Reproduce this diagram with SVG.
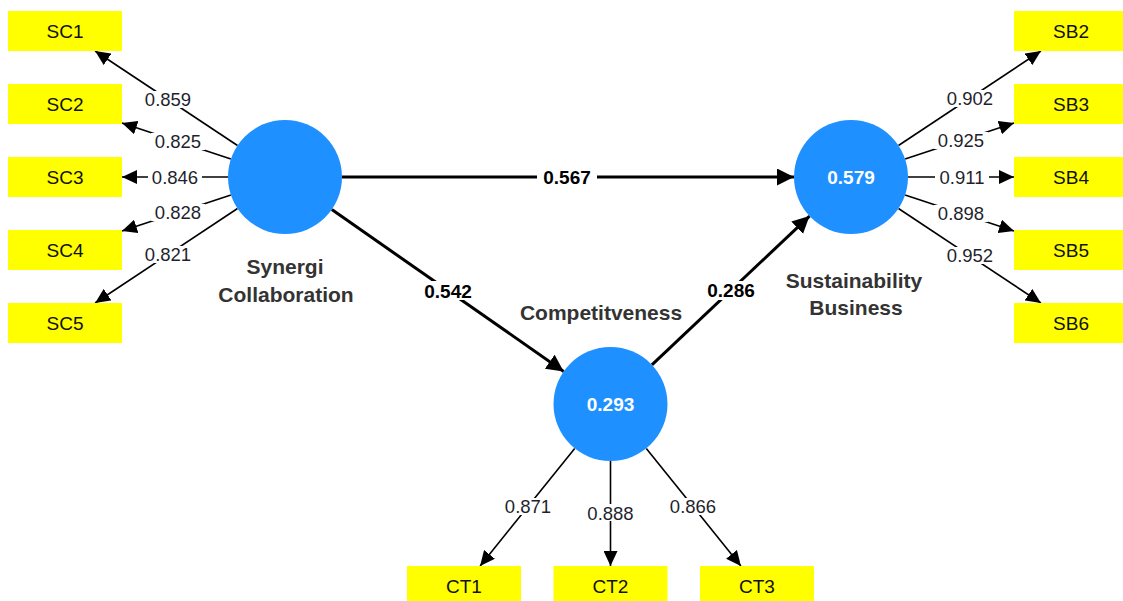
<svg xmlns="http://www.w3.org/2000/svg" width="1123" height="601" viewBox="0 0 1123 601">
<defs>
<style>
.box{fill:#ffff00}
.lat{fill:#1e90ff}
.t{font-family:"Liberation Sans",Arial,sans-serif;text-anchor:middle}
.bl{font-size:19px;fill:#111}
.val{font-size:19px;font-weight:bold;fill:#ffffff}
.ttl{font-size:21px;font-weight:bold;fill:#333333}
.num{font-size:18.5px;fill:#1f1f2e}
.numb{font-size:19px;font-weight:bold;fill:#000}
.e{stroke:#000;stroke-width:1.6;fill:none;marker-end:url(#ah)}
.p{stroke:#000;stroke-width:3;fill:none;marker-end:url(#ahb)}
.bg{fill:#fff}
</style>
<marker id="ah" markerUnits="userSpaceOnUse" markerWidth="16" markerHeight="14" refX="15" refY="7" orient="auto"><path d="M0,0 L15,7 L0,14 z" fill="#000"/></marker>
<marker id="ahb" markerUnits="userSpaceOnUse" markerWidth="18" markerHeight="18" refX="17" refY="8.5" orient="auto"><path d="M0,0 L17,8.5 L0,17 z" fill="#000"/></marker>
</defs>
<rect width="1123" height="601" fill="#fff"/>

<g id="connectors">
  <!-- structural paths -->
  <g id="e-sc-sb"><line class="p" x1="342" y1="177" x2="794" y2="177"/><rect class="bg" x="537" y="168" width="60" height="19"/><text class="t numb" x="567" y="184">0.567</text></g>
  <g id="e-sc-ct"><line class="p" x1="331.8" y1="209.6" x2="563.7" y2="371.4"/><rect class="bg" x="418" y="281" width="60" height="19"/><text class="t numb" x="448" y="297.5">0.542</text></g>
  <g id="e-ct-sb"><line class="p" x1="651.9" y1="364.9" x2="809.5" y2="216.1"/><rect class="bg" x="701" y="281" width="60" height="19"/><text class="t numb" x="731" y="297">0.286</text></g>

  <!-- Synergi Collaboration loadings -->
  <g id="e-sc1"><line class="e" x1="237.5" y1="145.5" x2="95.1" y2="51"/><rect class="bg" x="141" y="91" width="54" height="17"/><text class="t num" x="168" y="106">0.859</text></g>
  <g id="e-sc2"><line class="e" x1="230.9" y1="159" x2="122" y2="122.9"/><rect class="bg" x="151" y="133" width="54" height="17"/><text class="t num" x="178" y="148">0.825</text></g>
  <g id="e-sc3"><line class="e" x1="228" y1="177" x2="122" y2="177"/><rect class="bg" x="148" y="168" width="54" height="17"/><text class="t num" x="175" y="183.5">0.846</text></g>
  <g id="e-sc4"><line class="e" x1="230.9" y1="195" x2="122" y2="231.1"/><rect class="bg" x="151" y="204" width="54" height="17"/><text class="t num" x="178" y="219">0.828</text></g>
  <g id="e-sc5"><line class="e" x1="237.5" y1="208.5" x2="95.1" y2="303"/><rect class="bg" x="141" y="246" width="54" height="17"/><text class="t num" x="168" y="261">0.821</text></g>

  <!-- Sustainability Business loadings -->
  <g id="e-sb2"><line class="e" x1="898.5" y1="145.5" x2="1040.9" y2="51"/><rect class="bg" x="943" y="90" width="54" height="17"/><text class="t num" x="970" y="104.6">0.902</text></g>
  <g id="e-sb3"><line class="e" x1="905.1" y1="159" x2="1014" y2="122.9"/><rect class="bg" x="934" y="132" width="54" height="17"/><text class="t num" x="961" y="147">0.925</text></g>
  <g id="e-sb4"><line class="e" x1="908" y1="177" x2="1014" y2="177"/><rect class="bg" x="935" y="168" width="54" height="17"/><text class="t num" x="962" y="183.5">0.911</text></g>
  <g id="e-sb5"><line class="e" x1="905.1" y1="195" x2="1014" y2="231.1"/><rect class="bg" x="934" y="205" width="54" height="17"/><text class="t num" x="961" y="220">0.898</text></g>
  <g id="e-sb6"><line class="e" x1="898.5" y1="208.5" x2="1040.9" y2="303"/><rect class="bg" x="943" y="247" width="54" height="17"/><text class="t num" x="970" y="262.4">0.952</text></g>

  <!-- Competitveness loadings -->
  <g id="e-ct1"><line class="e" x1="574.7" y1="448.4" x2="480.1" y2="566"/><rect class="bg" x="501" y="498" width="54" height="17"/><text class="t num" x="528" y="513">0.871</text></g>
  <g id="e-ct2"><line class="e" x1="610.5" y1="461" x2="610.5" y2="566"/><rect class="bg" x="583.5" y="504" width="54" height="17"/><text class="t num" x="610.5" y="519.5">0.888</text></g>
  <g id="e-ct3"><line class="e" x1="646.3" y1="448.4" x2="740.9" y2="566"/><rect class="bg" x="666" y="498" width="54" height="17"/><text class="t num" x="693" y="513">0.866</text></g>
</g>

<!-- latent variables -->
<g id="synergi-collaboration">
  <circle class="lat" cx="285" cy="177" r="57"/>
  <text class="t ttl" x="285" y="274">Synergi</text>
  <text class="t ttl" x="286" y="302">Collaboration</text>
</g>
<g id="sustainability-business">
  <circle class="lat" cx="851" cy="177" r="57"/>
  <text class="t val" x="851" y="184">0.579</text>
  <text class="t ttl" x="854" y="288">Sustainability</text>
  <text class="t ttl" x="856" y="315">Business</text>
</g>
<g id="competitveness">
  <circle class="lat" cx="610.5" cy="404" r="57"/>
  <text class="t val" x="610.5" y="411">0.293</text>
  <text class="t ttl" x="601" y="320">Competitveness</text>
</g>

<!-- indicators -->
<g id="SC1"><rect class="box" x="8" y="11" width="114" height="40"/><text class="t bl" x="65" y="38">SC1</text></g>
<g id="SC2"><rect class="box" x="8" y="84" width="114" height="40"/><text class="t bl" x="65" y="111">SC2</text></g>
<g id="SC3"><rect class="box" x="8" y="157" width="114" height="40"/><text class="t bl" x="65" y="184">SC3</text></g>
<g id="SC4"><rect class="box" x="8" y="230" width="114" height="40"/><text class="t bl" x="65" y="257">SC4</text></g>
<g id="SC5"><rect class="box" x="8" y="303" width="114" height="40"/><text class="t bl" x="65" y="330">SC5</text></g>

<g id="SB2"><rect class="box" x="1014" y="11" width="114" height="40"/><text class="t bl" x="1071" y="38">SB2</text></g>
<g id="SB3"><rect class="box" x="1014" y="84" width="114" height="40"/><text class="t bl" x="1071" y="111">SB3</text></g>
<g id="SB4"><rect class="box" x="1014" y="157" width="114" height="40"/><text class="t bl" x="1071" y="184">SB4</text></g>
<g id="SB5"><rect class="box" x="1014" y="230" width="114" height="40"/><text class="t bl" x="1071" y="257">SB5</text></g>
<g id="SB6"><rect class="box" x="1014" y="303" width="114" height="40"/><text class="t bl" x="1071" y="330">SB6</text></g>

<g id="CT1"><rect class="box" x="407" y="566" width="114" height="40"/><text class="t bl" x="464" y="593">CT1</text></g>
<g id="CT2"><rect class="box" x="553.5" y="566" width="114" height="40"/><text class="t bl" x="610.5" y="593">CT2</text></g>
<g id="CT3"><rect class="box" x="700" y="566" width="114" height="40"/><text class="t bl" x="757" y="593">CT3</text></g>
</svg>
